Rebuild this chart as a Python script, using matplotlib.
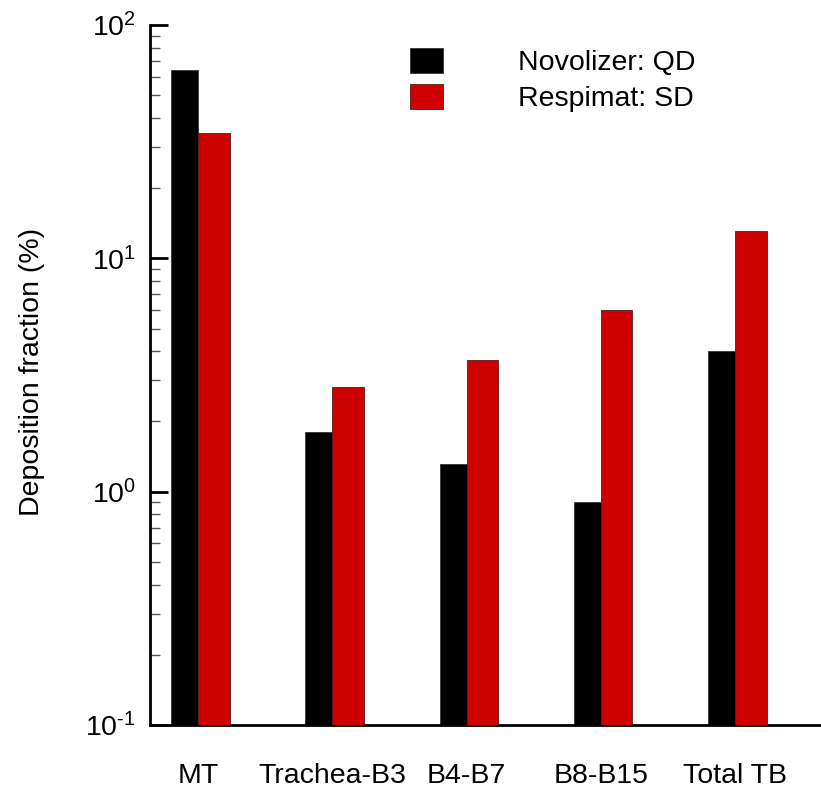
import matplotlib
matplotlib.use("Agg")
import matplotlib.pyplot as plt
import numpy as np
from matplotlib.ticker import LogLocator, NullFormatter, FuncFormatter

plt.rcParams['font.family'] = ['Liberation Sans', 'DejaVu Sans']
plt.rcParams['mathtext.fontset'] = 'custom'
plt.rcParams['mathtext.rm'] = 'Liberation Sans'
plt.rcParams['mathtext.it'] = 'Liberation Sans'
plt.rcParams['mathtext.default'] = 'regular'
plt.rcParams['axes.unicode_minus'] = False

categories = ["MT", "Trachea-B3", "B4-B7", "B8-B15", "Total TB"]
novolizer_qd = [64.0, 1.81, 1.32, 0.90, 4.02]
respimat_sd = [34.5, 2.80, 3.67, 6.01, 13.1]
series_labels = ["Novolizer: QD", "Respimat: SD"]

FS = 20.5
W, H = 821, 791
fig = plt.figure(figsize=(W / 100, H / 100), dpi=100)
ax = fig.add_axes([150 / W, 1 - 725 / H, 671 / W, 700 / H])

x = np.arange(len(categories))
wb, wr = 0.20, 0.235
ax.bar(x - wb / 2, novolizer_qd, width=wb, color='black', edgecolor='#333333',
       linewidth=0.6, label=series_labels[0], zorder=2)
ax.bar(x + wr / 2, respimat_sd, width=wr, color='#cf0000', edgecolor='#5a1a1a',
       linewidth=0.6, label=series_labels[1], zorder=3)

ax.set_yscale('log')
ax.set_ylim(0.1, 100)
ax.set_xlim(-0.3575, 4.64)


def log_fmt(v, _pos):
    e = int(round(np.log10(v)))
    es = r'\text{-}%d' % (-e) if e < 0 else '%d' % e
    return r'$10^{%s}$' % es


ax.yaxis.set_major_locator(LogLocator(base=10, numticks=10))
ax.yaxis.set_major_formatter(FuncFormatter(log_fmt))
ax.yaxis.set_minor_locator(LogLocator(base=10, subs=np.arange(2, 10), numticks=20))
ax.yaxis.set_minor_formatter(NullFormatter())

ax.set_xticks(x)
ax.set_xticklabels(categories, fontsize=FS)
ax.tick_params(axis='x', length=0, pad=27.5)
ax.tick_params(axis='y', which='major', direction='in', length=13, width=2,
               labelsize=FS, pad=10)
ax.tick_params(axis='y', which='minor', direction='in', length=7, width=1,
               color='#555555')

for s in ['top', 'right']:
    ax.spines[s].set_visible(False)
for s in ['left', 'bottom']:
    ax.spines[s].set_linewidth(2)

fig.text(32 / W, 1 - 372 / H, "Deposition fraction (%)", rotation=90,
         ha='center', va='center', fontsize=FS)

ax.legend(loc='upper left', bbox_to_anchor=(410 / W, 1 - 48 / H),
          bbox_transform=fig.transFigure, frameon=False, fontsize=FS,
          handlelength=1.15, handleheight=0.97, handletextpad=2.66,
          labelspacing=0.28, borderpad=0, borderaxespad=0)

fig.savefig("out.png", dpi=100)
